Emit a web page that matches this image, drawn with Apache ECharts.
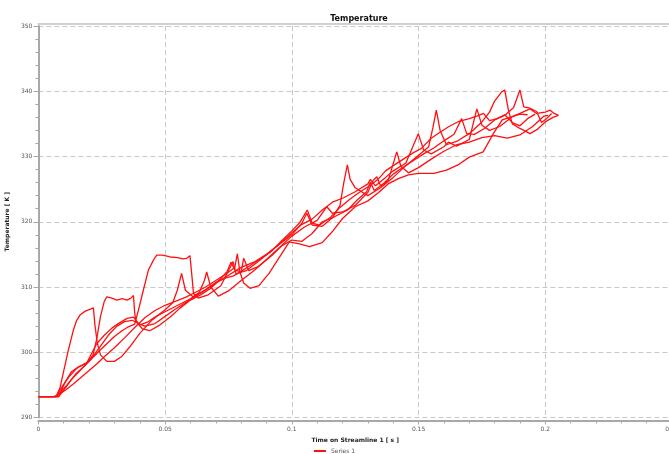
<!DOCTYPE html>
<html>
<head>
<meta charset="utf-8">
<script src="https://cdn.jsdelivr.net/npm/echarts@6/dist/echarts.min.js"></script>
<style>html,body{margin:0;padding:0;background:#fff}#c{width:669px;height:454px}</style>
</head>
<body>
<div id="c"></div>
<script>
const chartTitle = 'Temperature';
const xName = 'Time on Streamline 1 [ s ]';
const yName = 'Temperature [ K ]';
const seriesName = 'Series 1';
const xTicks = [0, 0.05, 0.1, 0.15, 0.2, 0.25];
const yTicks = [290, 300, 310, 320, 330, 340, 350];

const curve1 = [[0,293.2],[0.007,293.2],[0.0085,294.5],[0.0098,296.8],[0.0118,300.3],[0.0138,303.4],[0.015,304.8],[0.0164,305.7],[0.0185,306.3],[0.0205,306.6],[0.0217,306.8],[0.0223,304.2],[0.0232,301.5],[0.0245,299.6],[0.027,298.6],[0.03,298.6],[0.033,299.4],[0.036,300.8],[0.04,302.9],[0.045,305],[0.05,306.5],[0.053,307.6],[0.0548,309.5],[0.0565,312.1],[0.058,309.5],[0.061,308.5],[0.065,309.3],[0.07,310.6],[0.075,311.8],[0.08,313],[0.085,313.8],[0.09,315],[0.095,316.5],[0.1,318],[0.104,319.8],[0.1059,321.3],[0.108,319.5],[0.112,319.3],[0.116,320.6],[0.119,322.5],[0.1205,326],[0.1219,328.7],[0.123,326.5],[0.125,325.2],[0.13,324],[0.135,325.2],[0.14,326.8],[0.145,328.6],[0.15,330.2],[0.154,331.5],[0.1557,334.5],[0.157,337.1],[0.1585,334],[0.161,331.8],[0.165,332.3],[0.17,333.5],[0.175,335.3],[0.178,336.8],[0.18,338.5],[0.1828,339.9],[0.184,340.2],[0.1855,337],[0.187,335],[0.19,334.3],[0.194,333.5],[0.197,334.2],[0.2,335.3],[0.203,336],[0.2052,336.3]];
const curve2 = [[0,293.2],[0.008,293.2],[0.01,294.2],[0.013,295.8],[0.016,297],[0.019,298.3],[0.0215,299.5],[0.023,302],[0.0245,305.5],[0.026,307.8],[0.027,308.5],[0.029,308.3],[0.031,308.0],[0.033,308.2],[0.035,308.0],[0.0365,308.3],[0.0375,308.7],[0.038,306],[0.0385,304.7],[0.04,304.2],[0.043,304.6],[0.046,305.4],[0.05,306.2],[0.055,307.2],[0.06,308.2],[0.0635,309.2],[0.0655,311],[0.0664,312.3],[0.068,310],[0.071,308.6],[0.075,309.4],[0.08,311],[0.085,312.5],[0.09,314.2],[0.095,316],[0.1,317.8],[0.105,319.2],[0.11,320.2],[0.1138,322.3],[0.116,321.3],[0.12,321.5],[0.125,322.5],[0.13,324.5],[0.132,326.3],[0.1335,326.9],[0.135,325.5],[0.138,326.3],[0.1414,330.7],[0.143,328.5],[0.146,327.5],[0.15,328.3],[0.155,329.6],[0.16,330.8],[0.165,331.8],[0.17,332.2],[0.175,332.9],[0.18,333.2],[0.185,332.8],[0.19,333.3],[0.195,334.6],[0.1995,336.2],[0.2012,336.3]];
const curve3 = [[0,293.2],[0.007,293.2],[0.009,294],[0.012,295.3],[0.015,296.8],[0.018,297.8],[0.021,299],[0.024,300.2],[0.027,301.3],[0.03,302.4],[0.033,303.3],[0.0355,303.9],[0.038,304.3],[0.0395,306.5],[0.0414,309.5],[0.0434,312.6],[0.0455,314.2],[0.0467,314.9],[0.049,314.9],[0.052,314.6],[0.055,314.5],[0.057,314.3],[0.0585,314.4],[0.0598,314.8],[0.0605,312],[0.0612,309],[0.063,308.3],[0.067,308.8],[0.072,310.2],[0.0768,313.9],[0.078,312],[0.082,312.5],[0.087,314],[0.092,315.6],[0.097,317.2],[0.1,318.3],[0.104,319.6],[0.108,320.4],[0.112,321.8],[0.116,323],[0.12,323.6],[0.125,324.6],[0.13,325.8],[0.131,326.5],[0.133,325.5],[0.137,326.8],[0.14,327.8],[0.145,329],[0.1499,333.5],[0.152,331],[0.155,330.4],[0.16,331.5],[0.1618,332.2],[0.165,331.6],[0.17,332.6],[0.173,337.3],[0.175,334.8],[0.178,334],[0.182,334.6],[0.187,336.1],[0.19,336.5],[0.193,336.4]];
const curve4 = [[0,293.2],[0.006,293.2],[0.008,293.5],[0.011,294.3],[0.014,295.2],[0.017,296.2],[0.02,297.2],[0.023,298.2],[0.026,299.3],[0.03,300.7],[0.034,302.2],[0.038,303.8],[0.042,305.3],[0.046,306.4],[0.05,307.2],[0.054,307.8],[0.058,308.4],[0.062,309.2],[0.066,310],[0.07,311],[0.074,312],[0.0775,313],[0.0785,315.1],[0.0795,312.3],[0.081,310.6],[0.0835,309.8],[0.087,310.2],[0.091,312.1],[0.095,314.5],[0.099,316.9],[0.103,316.6],[0.107,316.2],[0.112,316.8],[0.116,318.5],[0.12,320.5],[0.125,322.3],[0.13,323.2],[0.134,324.4],[0.138,325.8],[0.142,326.6],[0.146,327.2],[0.15,327.4],[0.156,327.4],[0.161,327.9],[0.166,328.8],[0.17,329.9],[0.1755,330.7],[0.1795,333.5],[0.183,335.6],[0.187,336.1],[0.19,336.6],[0.194,337.3],[0.1966,336.6],[0.2,336.8],[0.2019,337.1],[0.2035,336.6],[0.2052,336.3]];
const curve5 = [[0,293.2],[0.007,293.2],[0.0095,294.8],[0.012,296.2],[0.015,297.5],[0.018,298.2],[0.02,298.6],[0.022,299.6],[0.025,301.2],[0.028,302.8],[0.031,304],[0.034,304.7],[0.037,304.9],[0.039,304.5],[0.041,303.6],[0.044,303.3],[0.048,304.2],[0.052,305.4],[0.056,306.8],[0.06,308],[0.064,308.8],[0.068,309.8],[0.072,311.3],[0.0745,312.4],[0.076,313.8],[0.0775,312.6],[0.08,312.3],[0.081,314.4],[0.083,312.5],[0.087,313.2],[0.092,314.8],[0.096,316.3],[0.1,317.2],[0.104,317],[0.108,318.2],[0.112,320],[0.117,320.8],[0.122,321.8],[0.126,323.4],[0.1295,324.6],[0.131,326.1],[0.1325,324.8],[0.136,325.8],[0.14,327.3],[0.144,328.4],[0.148,329.4],[0.152,330.4],[0.156,331.3],[0.16,332.4],[0.164,333.4],[0.167,335.8],[0.169,333.5],[0.172,333.4],[0.176,334.3],[0.18,335.6],[0.184,336.3],[0.1875,337.5],[0.19,340.2],[0.1915,337.6],[0.194,337.4],[0.1966,336.9],[0.1985,335.2],[0.2005,335.8],[0.2025,336.6]];
const curve6 = [[0,293.2],[0.008,293.2],[0.0105,295.4],[0.013,297],[0.016,297.8],[0.019,298.3],[0.021,299.8],[0.023,301.3],[0.026,302.6],[0.029,303.7],[0.032,304.5],[0.035,305.2],[0.0375,305.4],[0.0395,304.4],[0.042,304],[0.046,304.4],[0.05,305.5],[0.054,306.6],[0.058,307.6],[0.062,308.6],[0.066,309.6],[0.07,310.7],[0.074,311.4],[0.077,311.7],[0.08,312.4],[0.084,313.4],[0.088,314.4],[0.092,315.5],[0.096,317.1],[0.1,318.6],[0.103,319.8],[0.1061,321.8],[0.108,319.8],[0.111,319.5],[0.115,320.6],[0.119,322.2],[0.123,323.5],[0.127,324.6],[0.131,325.6],[0.134,326.5],[0.137,327.8],[0.14,328.6],[0.144,329.6],[0.148,330.6],[0.151,331.2],[0.155,332.8],[0.158,333.6],[0.162,334.6],[0.166,335.4],[0.17,335.8],[0.173,336.2],[0.1756,336.6],[0.178,335.5],[0.181,335.8],[0.184,336.4],[0.187,335.2],[0.19,334.7],[0.193,335.8],[0.196,336.5]];
const curves = [curve1, curve2, curve3, curve4, curve5, curve6];

const chart = echarts.init(document.getElementById('c'), null, {renderer: 'canvas'});
const font = 'DejaVu Sans';
const gridCol = '#c8c8c8';
const axisCol = '#a8a8a8';
chart.setOption({
  backgroundColor: '#ffffff',
  animation: false,
  title: {
    text: chartTitle, left: 354, top: 10, textAlign: 'center',
    textStyle: {fontFamily: font, fontSize: 8, fontWeight: 'bold', color: '#111'}
  },
  legend: {
    data: [seriesName], left: 'center', top: 443,
    itemWidth: 12, itemHeight: 2, icon: 'rect', itemGap: 4,
    textStyle: {fontFamily: font, fontSize: 6, color: '#555'}
  },
  grid: {left: 38.4, width: 633.6, top: 26, height: 391.5, containLabel: false, outerBoundsMode: 'none'},
  xAxis: [{
    type: 'value', min: xTicks[0], max: xTicks[xTicks.length - 1], interval: 0.05,
    offset: 3,
    name: xName, nameLocation: 'middle', nameGap: 16,
    nameTextStyle: {fontFamily: font, fontSize: 6, fontWeight: 'bold', color: '#222'},
    axisLine: {show: true, lineStyle: {color: axisCol, width: 2}},
    axisTick: {show: true, length: 4, lineStyle: {color: axisCol}},
    minorTick: {show: true, splitNumber: 5, length: 3, lineStyle: {color: axisCol}},
    axisLabel: {fontFamily: font, fontSize: 6, color: '#555', margin: 6},
    splitLine: {show: true, lineStyle: {color: gridCol, type: [5, 3], width: 1}}
  }, {
    type: 'value', position: 'top', min: 0, max: 0.25, offset: 2,
    axisLine: {show: true, lineStyle: {color: '#d0d0d0', width: 2}},
    axisTick: {show: false}, axisLabel: {show: false}, splitLine: {show: false}
  }],
  yAxis: {
    type: 'value', min: yTicks[0], max: yTicks[yTicks.length - 1], interval: 10,
    offset: 3,
    name: yName, nameLocation: 'middle', nameGap: 20, nameRotate: 90,
    nameTextStyle: {fontFamily: font, fontSize: 6, fontWeight: 'bold', color: '#222'},
    axisLine: {show: true, lineStyle: {color: axisCol, width: 2}},
    axisTick: {show: true, length: 5, lineStyle: {color: axisCol}},
    minorTick: {show: true, splitNumber: 5, length: 3, lineStyle: {color: axisCol}},
    axisLabel: {fontFamily: font, fontSize: 6, color: '#555', margin: 3},
    splitLine: {show: true, lineStyle: {color: gridCol, type: [5, 3], width: 1}}
  },
  series: curves.map(c => ({
    name: seriesName, type: 'line', data: c, xAxisIndex: 0,
    showSymbol: false, symbol: 'none', smooth: false,
    lineStyle: {color: '#ff1010', width: 1.3},
    itemStyle: {color: '#ff1010'}
  }))
});
</script>
</body>
</html>
